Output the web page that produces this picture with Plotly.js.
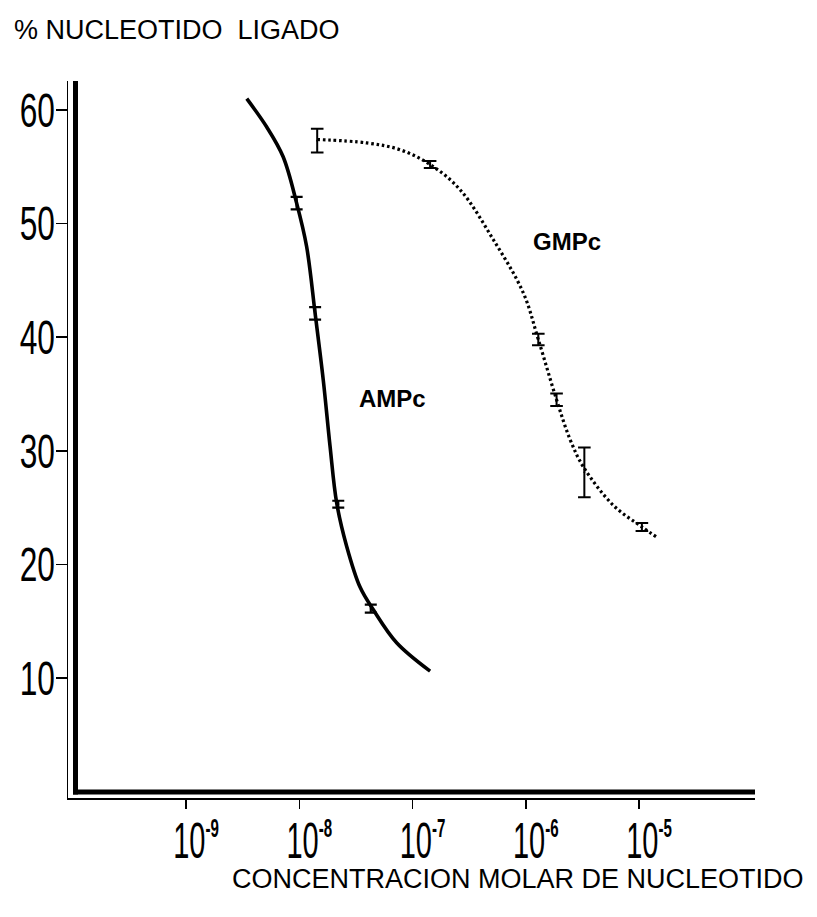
<!DOCTYPE html>
<html><head><meta charset="utf-8">
<script src="https://cdn.plot.ly/plotly-3.0.1.min.js"></script>
<style>html,body{margin:0;padding:0;background:#fff}#chart{width:817px;height:917px}</style>
</head><body><div id="chart"></div>
<script>
// ---- data ----
const ampcCurveX = [3.44e-9, 5.16e-9, 7.19e-9, 9.48e-9, 1.16e-8, 1.38e-8, 1.63e-8, 1.87e-8, 2.14e-8, 2.62e-8, 3.44e-8, 4.51e-8, 7.24e-8, 1.43e-7];
const ampcCurveY = [61.0, 58.5, 55.9, 51.8, 48.0, 42.1, 36.2, 30.4, 25.4, 21.6, 18.0, 16.0, 13.1, 10.6];
const ampcPointX = [9.48e-9, 1.38e-8, 2.21e-8, 4.28e-8];
const ampcPointY = [51.8, 42.1, 25.3, 16.1];
const ampcErr = [0.55, 0.55, 0.3, 0.35];

const gmpcCurveX = [1.44e-8, 3.94e-8, 7.76e-8, 1.43e-7, 2.62e-7, 5.16e-7, 9.51e-7, 1.29e-6, 1.87e-6, 2.46e-6, 3.22e-6, 5.93e-6, 1.06e-5, 1.48e-5];
const gmpcCurveY = [57.4, 57.1, 56.5, 55.2, 53.0, 48.6, 43.9, 39.8, 34.5, 31.0, 28.6, 25.2, 23.3, 22.3];
const gmpcPointX = [1.44e-8, 1.43e-7, 1.29e-6, 1.87e-6, 3.29e-6, 1.06e-5];
const gmpcPointY = [57.3, 55.2, 39.8, 34.5, 28.1, 23.3];
const gmpcErr = [1.05, 0.3, 0.5, 0.55, 2.2, 0.35];

const xTickVals = [1e-9, 1e-8, 1e-7, 1e-6, 1e-5];
const xTickExp = ['-9', '-8', '-7', '-6', '-5'];
const yTickVals = [10, 20, 30, 40, 50, 60];
const yTickText = ['10', '20', '30', '40', '50', '60'];

const seriesNames = ['AMPc', 'GMPc'];
const yTitle = '% NUCLEOTIDO\u00a0\u00a0LIGADO';
const xTitle = 'CONCENTRACION MOLAR DE NUCLEOTIDO';

// ---- layout geometry ----
const W = 817, H = 917;
const M = {l: 68, r: 62, t: 81, b: 119};
const PW = W - M.l - M.r, PH = H - M.t - M.b;
const px = p => (p - M.l) / PW;          // pixel x -> paper
const py = p => (H - M.b - p) / PH;      // pixel y -> paper
const FONT = 'Liberation Sans, Arial, sans-serif';

const data = [
  {x: ampcCurveX, y: ampcCurveY, mode: 'lines', name: seriesNames[0],
   line: {color: '#000', width: 3.6, shape: 'spline', smoothing: 1}, hoverinfo: 'skip'},
  {x: gmpcCurveX, y: gmpcCurveY, mode: 'lines', name: seriesNames[1],
   line: {color: '#000', width: 3.2, dash: '2.6px,2.8px', shape: 'spline', smoothing: 1}, hoverinfo: 'skip'},
  {x: ampcPointX, y: ampcPointY, mode: 'markers', name: seriesNames[0],
   marker: {size: 2, color: '#000'},
   error_y: {type: 'data', array: ampcErr, visible: true, color: '#000', thickness: 2.2, width: 6}},
  {x: gmpcPointX, y: gmpcPointY, mode: 'markers', name: seriesNames[1],
   marker: {size: 2, color: '#000'},
   error_y: {type: 'data', array: gmpcErr, visible: true, color: '#000', thickness: 2, width: 6.3}}
];

const layout = {
  width: W, height: H, margin: M, showlegend: false,
  paper_bgcolor: '#fff', plot_bgcolor: '#fff',
  font: {family: FONT, color: '#000'},
  xaxis: {
    type: 'log', range: [-10.042, -3.976], automargin: false,
    showgrid: false, zeroline: false,
    showline: true, linewidth: 1.5, linecolor: '#000',
    ticks: 'outside', ticklen: 9, tickwidth: 1.5, tickcolor: '#000',
    tickvals: xTickVals,
    ticktext: xTickExp.map(e => '10<sup><b><span style="font-size:26px">' + e + '</span></b></sup>'),
    tickfont: {family: FONT, size: 50, color: '#000'},
    ticklabelstandoff: -10, ticklabelshift: 10
  },
  yaxis: {
    range: [-0.563, 62.55], automargin: false,
    showgrid: false, zeroline: false,
    showline: true, linewidth: 1.5, linecolor: '#000',
    ticks: 'outside', ticklen: 11, tickwidth: 1.5, tickcolor: '#000',
    tickvals: yTickVals, ticktext: yTickText,
    tickfont: {family: FONT, size: 48, color: '#000'},
    ticklabelstandoff: -9
  },
  shapes: [
    // thick inner axis lines
    {type: 'line', xref: 'paper', yref: 'paper', x0: px(75.5), x1: px(75.5), y0: py(794.5), y1: 1,
     line: {color: '#000', width: 5}},
    {type: 'line', xref: 'paper', yref: 'paper', x0: px(73), x1: px(755), y0: py(792), y1: py(792),
     line: {color: '#000', width: 5}}
  ],
  annotations: [
    {xref: 'paper', yref: 'paper', x: px(12), y: py(30), xanchor: 'left', yanchor: 'middle',
     text: yTitle, showarrow: false, font: {family: FONT, size: 27, color: '#000'}},
    {xref: 'paper', yref: 'paper', x: px(806), y: py(879), xanchor: 'right', yanchor: 'middle',
     text: xTitle, showarrow: false, font: {family: FONT, size: 27, color: '#000'}},
    {xref: 'x', yref: 'y', x: Math.log10(6.6e-8), y: 34.6, xanchor: 'center', yanchor: 'middle',
     text: seriesNames[0], showarrow: false, font: {family: FONT, size: 24, weight: 'bold', color: '#000'}},
    {xref: 'x', yref: 'y', x: Math.log10(2.31e-6), y: 48.4, xanchor: 'center', yanchor: 'middle',
     text: seriesNames[1], showarrow: false, font: {family: FONT, size: 24, weight: 'bold', color: '#000'}}
  ]
};

function squeeze(sel, s) {
  document.querySelectorAll(sel).forEach(t => {
    const cx = parseFloat(t.getAttribute('x')) || 0;
    const tr = t.getAttribute('transform') || '';
    t.setAttribute('transform', tr + ' translate(' + cx + ',0) scale(' + s + ',1) translate(' + (-cx) + ',0)');
  });
}

Plotly.newPlot('chart', data, layout, {staticPlot: true}).then(() => {
  squeeze('.xtick text', 0.58);
  squeeze('.ytick text', 0.66);
});
</script>
</body></html>
